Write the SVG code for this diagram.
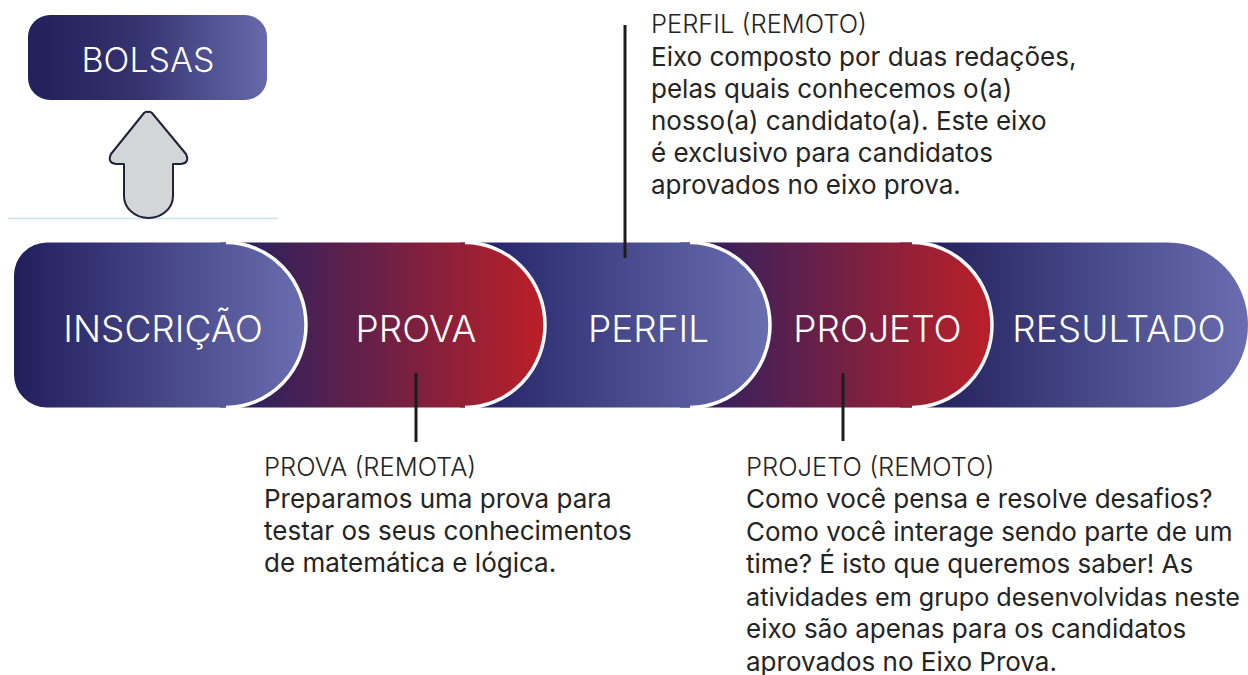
<svg xmlns="http://www.w3.org/2000/svg" width="1248" height="675" viewBox="0 0 1248 675">
<defs>
<linearGradient id="gBolsas" gradientUnits="userSpaceOnUse" x1="28" y1="0" x2="267" y2="0"><stop offset="0" stop-color="#221f5b"/><stop offset="0.45" stop-color="#34326f"/><stop offset="1" stop-color="#666aab"/></linearGradient>
<linearGradient id="gIns" gradientUnits="userSpaceOnUse" x1="14" y1="0" x2="307" y2="0"><stop offset="0" stop-color="#211e5c"/><stop offset="1" stop-color="#6a6eb0"/></linearGradient>
<linearGradient id="gProva" gradientUnits="userSpaceOnUse" x1="245" y1="0" x2="547" y2="0"><stop offset="0" stop-color="#2b215f"/><stop offset="1" stop-color="#bd1f26"/></linearGradient>
<linearGradient id="gPerfil" gradientUnits="userSpaceOnUse" x1="488" y1="0" x2="770" y2="0"><stop offset="0" stop-color="#27266a"/><stop offset="1" stop-color="#6a6fb0"/></linearGradient>
<linearGradient id="gProj" gradientUnits="userSpaceOnUse" x1="712" y1="0" x2="994" y2="0"><stop offset="0" stop-color="#36205d"/><stop offset="1" stop-color="#bc2027"/></linearGradient>
<linearGradient id="gRes" gradientUnits="userSpaceOnUse" x1="935" y1="0" x2="1248" y2="0"><stop offset="0" stop-color="#24235f"/><stop offset="1" stop-color="#6a6db0"/></linearGradient>
<style>
.lbl{font-family:Inter,"Liberation Sans",sans-serif;font-weight:300;font-size:37px;fill:#ffffff;text-anchor:middle}
.edge{fill:none;stroke:#ffffff;stroke-width:3.5}
.conn{stroke:#1c1c1c;stroke-width:3;fill:none}
.desc{font-family:Inter,"Liberation Sans",sans-serif;font-size:26px;fill:#242424}
.hd{font-weight:300;font-size:25.5px}
</style>
</defs>
<line x1="8" y1="218.5" x2="278" y2="218.5" stroke="#c9deee" stroke-width="1.5"/>
<g id="bolsas">
<rect x="28" y="15" width="239" height="85" rx="22" fill="url(#gBolsas)"/>
<text x="148" y="72" class="lbl" style="font-size:34px">BOLSAS</text>
</g>
<g id="arrow">
<path d="M148,112 Q150,111 152,113 L186,154 Q190,163 181,164 L173,164 L173,196 A24.5,22 0 0 1 124,196 L124,164 L116,164 Q107,163 111,154 L144,113 Q146,111 148,112 Z" fill="#d3d6d7" stroke="#22203a" stroke-width="2" stroke-linejoin="round"/>
</g>
<g id="resultado">
<path d="M900,242.5 H1168 A80,82.5 0 0 1 1168,407.5 H900 Z" fill="url(#gRes)"/>
<text x="1119" y="342" class="lbl">RESULTADO</text>
</g>
<g id="projeto">
<path d="M680,242.5 H912 A80,82.5 0 0 1 912,407.5 H680 Z" fill="url(#gProj)"/>
<path d="M912,242.5 A80,82.5 0 0 1 912,407.5" class="edge"/>
<text x="877.5" y="342" class="lbl">PROJETO</text>
</g>
<g id="perfil">
<path d="M460,242.5 H690 A80,82.5 0 0 1 690,407.5 H460 Z" fill="url(#gPerfil)"/>
<path d="M690,242.5 A80,82.5 0 0 1 690,407.5" class="edge"/>
<text x="648.5" y="342" class="lbl">PERFIL</text>
</g>
<g id="prova">
<path d="M220,242.5 H465 A80,82.5 0 0 1 465,407.5 H220 Z" fill="url(#gProva)"/>
<path d="M465,242.5 A80,82.5 0 0 1 465,407.5" class="edge"/>
<text x="416" y="342" class="lbl">PROVA</text>
</g>
<g id="inscricao">
<path d="M47,242.5 H226 A80,82.5 0 0 1 226,407.5 H47 A33,33 0 0 1 14,374.5 V275.5 A33,33 0 0 1 47,242.5 Z" fill="url(#gIns)"/>
<path d="M226,242.5 A80,82.5 0 0 1 226,407.5" class="edge"/>
<text x="163" y="342" class="lbl">INSCRIÇÃO</text>
</g>
<g id="connectors">
<line x1="416" y1="373" x2="416" y2="442" class="conn"/>
<line x1="625" y1="25" x2="625" y2="258" class="conn"/>
<line x1="843" y1="373" x2="843" y2="441" class="conn"/>
</g>
<g id="perfil-text" class="desc">
<text x="651" y="33" class="hd">PERFIL (REMOTO)</text>
<text x="651" y="66">Eixo composto por duas redações,</text>
<text x="651" y="98">pelas quais conhecemos o(a)</text>
<text x="651" y="130">nosso(a) candidato(a). Este eixo</text>
<text x="651" y="162">é exclusivo para candidatos</text>
<text x="651" y="194">aprovados no eixo prova.</text>
</g>
<g id="prova-text" class="desc">
<text x="264" y="476" class="hd">PROVA (REMOTA)</text>
<text x="264" y="508">Preparamos uma prova para</text>
<text x="264" y="540">testar os seus conhecimentos</text>
<text x="264" y="572">de matemática e lógica.</text>
</g>
<g id="projeto-text" class="desc">
<text x="746" y="476" class="hd">PROJETO (REMOTO)</text>
<text x="746" y="508">Como você pensa e resolve desafios?</text>
<text x="746" y="540.5">Como você interage sendo parte de um</text>
<text x="746" y="573">time? É isto que queremos saber! As</text>
<text x="746" y="605.5" style="font-size:25px" textLength="494" lengthAdjust="spacingAndGlyphs">atividades em grupo desenvolvidas neste</text>
<text x="746" y="638">eixo são apenas para os candidatos</text>
<text x="746" y="670.5">aprovados no Eixo Prova.</text>
</g>
</svg>
